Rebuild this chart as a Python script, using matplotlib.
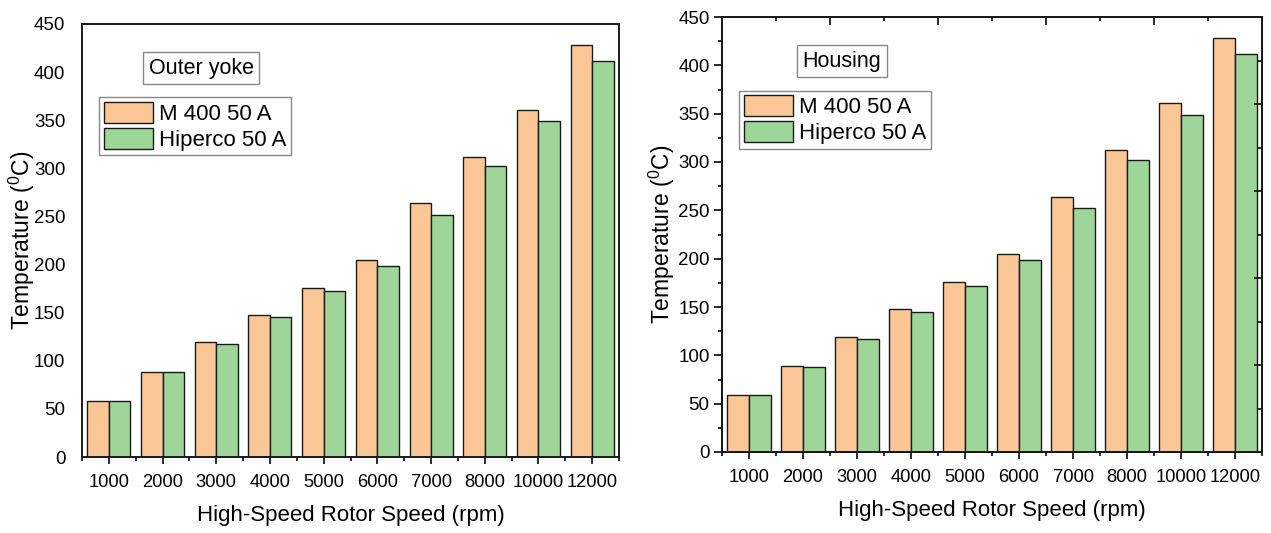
import numpy as np
import matplotlib
matplotlib.use("Agg")
import matplotlib.pyplot as plt
from matplotlib.ticker import MultipleLocator, FixedLocator

plt.rcParams['font.family'] = ['Liberation Sans', 'DejaVu Sans']
plt.rcParams['mathtext.fontset'] = 'custom'
plt.rcParams['mathtext.rm'] = 'Liberation Sans'

# data
speeds = ['1000', '2000', '3000', '4000', '5000', '6000', '7000', '8000', '10000', '12000']
m400 = [58.5, 88.5, 119, 147.5, 176, 204.5, 263.5, 312, 361, 428.5]
hiperco = [58.5, 88, 117, 145, 172, 199, 252, 302, 349, 412]
panels = ['Outer yoke', 'Housing']

c_orange = '#FBC797'
c_green = '#9ED69A'
ink = '#1a1a1a'

fig = plt.figure(figsize=(12.71, 5.33), dpi=100)
ax1 = fig.add_axes([82/1271, 1-457/533, 537/1271, 433/533])
ax2 = fig.add_axes([722/1271, 1-452/533, 540/1271, 435/533])

x = np.arange(len(speeds))
w = 0.4

for ax, name in zip([ax1, ax2], panels):
    ax.bar(x - w/2, m400, w, color=c_orange, edgecolor=ink, linewidth=1, label='M 400 50 A')
    ax.bar(x + w/2, hiperco, w, color=c_green, edgecolor=ink, linewidth=1, label='Hiperco 50 A')
    ax.set_xlim(-0.5, len(speeds) - 0.5)
    ax.set_ylim(0, 450)
    ax.set_xticks(x)
    ax.set_xticklabels(speeds)
    ax.xaxis.set_minor_locator(FixedLocator(np.arange(-0.5, len(speeds), 1)))
    ax.yaxis.set_major_locator(MultipleLocator(50))
    for s in ax.spines.values():
        s.set_linewidth(1.4)
        s.set_color(ink)
    ax.tick_params(axis='x', which='major', direction='out', length=5, width=1.3, color=ink,
                   labelsize=13.2, pad=7)
    ax.tick_params(axis='x', which='minor', direction='out', length=3, width=1.3, color=ink)
    ax.tick_params(axis='y', labelsize=13.5)
    ax.set_xlabel('High-Speed Rotor Speed (rpm)', fontsize=16, labelpad=10)
    ax.set_ylabel('Temperature ($^{0}$C)', fontsize=16.5)
    ax.yaxis.set_label_coords(-0.084, 0.5)
    ax.text(0.222, 0.898, name, transform=ax.transAxes, fontsize=15.5, ha='center', va='center',
            bbox=dict(boxstyle='square,pad=0.25', fc='white', ec='#888888', lw=1))
    leg = ax.legend(loc='upper left', bbox_to_anchor=(0.032, 0.831), borderaxespad=0,
                    fontsize=16, fancybox=False, edgecolor='#888888', framealpha=1,
                    handlelength=2.2, handleheight=1.1, labelspacing=0.12,
                    handletextpad=0.3, borderpad=0.2)
    leg.get_frame().set_linewidth(1)

# left panel: no y tick marks
ax1.tick_params(axis='y', length=0, pad=12)

# right panel: ticks on all sides
ax2.yaxis.set_minor_locator(MultipleLocator(25))
ax2.tick_params(axis='y', which='major', direction='out', length=6, width=1.3, color=ink, pad=3)
ax2.tick_params(axis='y', which='minor', direction='out', length=3, width=1.3, color=ink)

top = ax2.twiny()
top.set_xlim(ax2.get_xlim())
top.xaxis.set_major_locator(FixedLocator(np.arange(1.5, len(speeds), 2)))
top.xaxis.set_minor_locator(FixedLocator(np.arange(0.5, len(speeds), 2)))
top.tick_params(axis='x', which='major', direction='in', length=6, width=1.3, color=ink, labeltop=False)
top.tick_params(axis='x', which='minor', direction='in', length=3, width=1.3, color=ink)

right = ax2.twinx()
right.set_ylim(ax2.get_ylim())
right.yaxis.set_major_locator(MultipleLocator(90))
right.yaxis.set_minor_locator(MultipleLocator(45))
right.tick_params(axis='y', which='major', direction='in', length=6, width=1.3, color=ink, labelright=False)
right.tick_params(axis='y', which='minor', direction='in', length=3, width=1.3, color=ink)
for a in (top, right):
    for s in a.spines.values():
        s.set_linewidth(1.4)
        s.set_color(ink)

fig.savefig('out.png', dpi=100)
